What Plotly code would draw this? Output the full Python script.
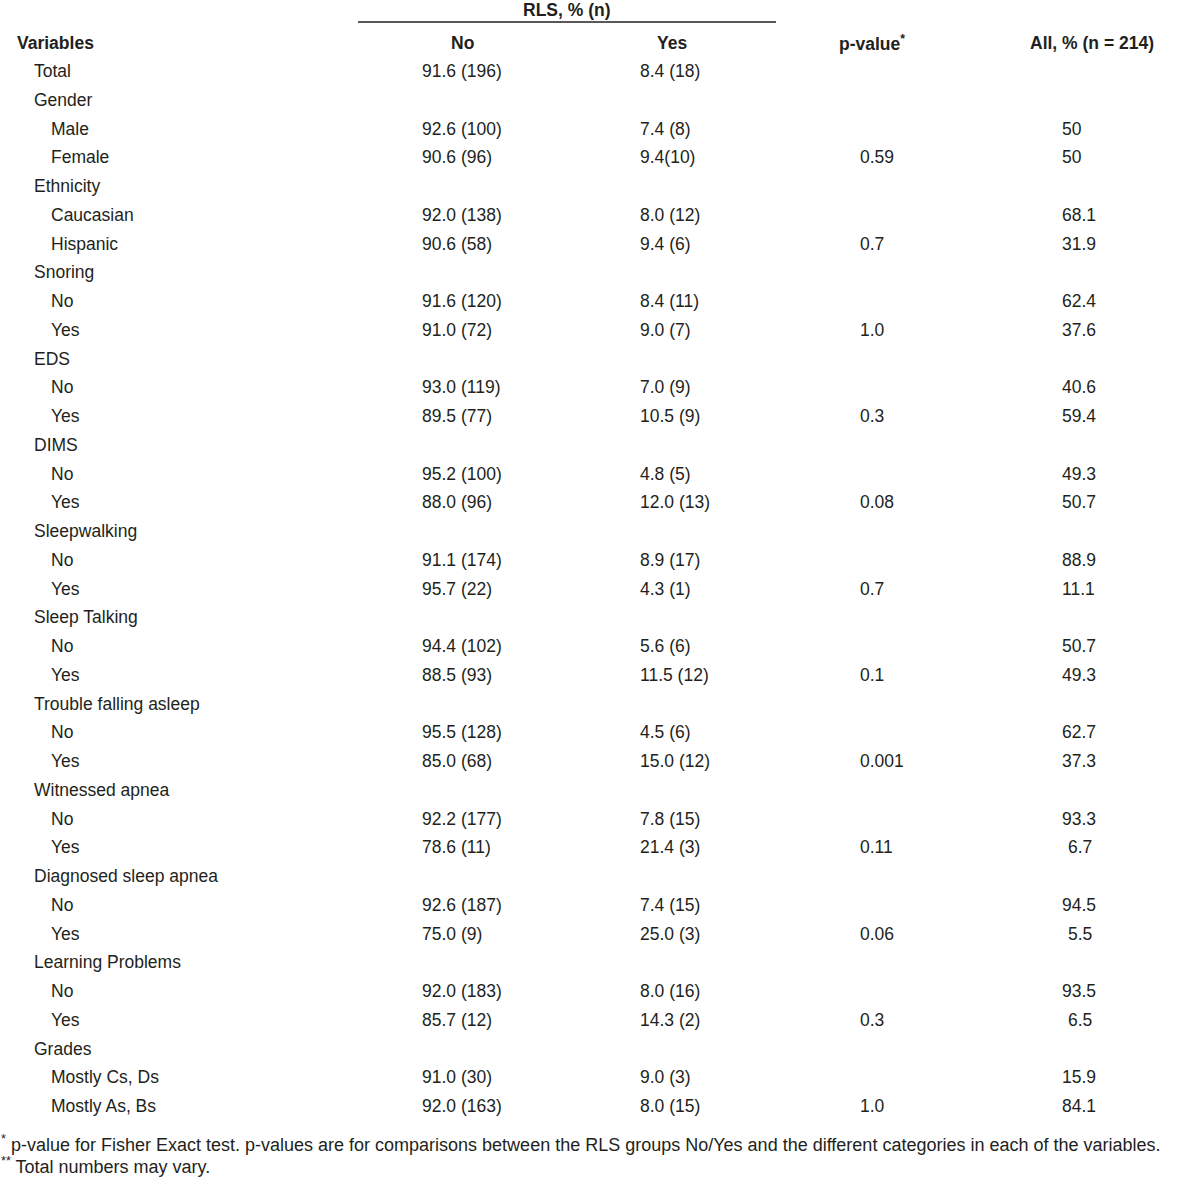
import plotly.graph_objects as go

variables = ["Total", "Gender", "Male", "Female", "Ethnicity", "Caucasian", "Hispanic",
             "Snoring", "No", "Yes", "EDS", "No", "Yes", "DIMS", "No", "Yes",
             "Sleepwalking", "No", "Yes", "Sleep Talking", "No", "Yes",
             "Trouble falling asleep", "No", "Yes", "Witnessed apnea", "No", "Yes",
             "Diagnosed sleep apnea", "No", "Yes", "Learning Problems", "No", "Yes",
             "Grades", "Mostly Cs, Ds", "Mostly As, Bs"]
levels = [0, 0, 1, 1, 0, 1, 1, 0, 1, 1, 0, 1, 1, 0, 1, 1, 0, 1, 1, 0, 1, 1,
          0, 1, 1, 0, 1, 1, 0, 1, 1, 0, 1, 1, 0, 1, 1]
rls_no = ["91.6 (196)", "", "92.6 (100)", "90.6 (96)", "", "92.0 (138)", "90.6 (58)",
          "", "91.6 (120)", "91.0 (72)", "", "93.0 (119)", "89.5 (77)", "", "95.2 (100)", "88.0 (96)",
          "", "91.1 (174)", "95.7 (22)", "", "94.4 (102)", "88.5 (93)",
          "", "95.5 (128)", "85.0 (68)", "", "92.2 (177)", "78.6 (11)",
          "", "92.6 (187)", "75.0 (9)", "", "92.0 (183)", "85.7 (12)",
          "", "91.0 (30)", "92.0 (163)"]
rls_yes = ["8.4 (18)", "", "7.4 (8)", "9.4(10)", "", "8.0 (12)", "9.4 (6)",
           "", "8.4 (11)", "9.0 (7)", "", "7.0 (9)", "10.5 (9)", "", "4.8 (5)", "12.0 (13)",
           "", "8.9 (17)", "4.3 (1)", "", "5.6 (6)", "11.5 (12)",
           "", "4.5 (6)", "15.0 (12)", "", "7.8 (15)", "21.4 (3)",
           "", "7.4 (15)", "25.0 (3)", "", "8.0 (16)", "14.3 (2)",
           "", "9.0 (3)", "8.0 (15)"]
p_values = ["", "", "", "0.59", "", "", "0.7", "", "", "1.0", "", "", "0.3", "", "", "0.08",
            "", "", "0.7", "", "", "0.1", "", "", "0.001", "", "", "0.11",
            "", "", "0.06", "", "", "0.3", "", "", "1.0"]
all_pct = ["", "", "50", "50", "", "68.1", "31.9", "", "62.4", "37.6", "", "40.6", "59.4",
           "", "49.3", "50.7", "", "88.9", "11.1", "", "50.7", "49.3",
           "", "62.7", "37.3", "", "93.3", "6.7", "", "94.5", "5.5", "", "93.5", "6.5",
           "", "15.9", "84.1"]

group_title = "RLS, % (n)"
col_headers = ["Variables", "No", "Yes", "p-value<sup>*</sup>", "All, % (n = 214)"]
footnotes = ["<sup>*</sup> p-value for Fisher Exact test. p-values are for comparisons between the RLS groups No/Yes and the different categories in each of the variables.",
             "<sup>**</sup> Total numbers may vary."]

W, H = 1200, 1186
FONT = "Liberation Sans, Arial, sans-serif"
COLOR = "#231f20"
FS = 17.5
ROW0, STEP = 71, 28.75

fig = go.Figure()
fig.add_trace(go.Scatter(x=[0, W], y=[0, H], mode="markers", marker=dict(opacity=0),
                         hoverinfo="skip", showlegend=False))

def ann(x, y, text, anchor="left", bold=False, size=FS, xshift=0):
    t = f"<b>{text}</b>" if bold else text
    dx = -2 if anchor == "left" else (2 if anchor == "right" else 0)
    fig.add_annotation(x=x, y=y, xref="x", yref="y", text=t, showarrow=False,
                       xanchor=anchor, yanchor="middle", xshift=xshift + dx,
                       font=dict(family=FONT, size=size, color=COLOR))

# headers
ann(567, 10, group_title, "center", True)
fig.add_shape(type="line", x0=358, x1=776, y0=22, y1=22, xref="x", yref="y",
              line=dict(color=COLOR, width=1.5))
hx = [17, 462, 672, 872, 1092]
hanch = ["left", "center", "center", "center", "center"]
for x, a, t in zip(hx, hanch, col_headers):
    ann(x, 43, t, a, True)

for i, (v, lv, n, yv, p, a) in enumerate(zip(variables, levels, rls_no, rls_yes, p_values, all_pct)):
    y = ROW0 + i * STEP
    ann(34 + 17 * lv, y, v)
    if n:
        ann(422, y, n)
    if yv:
        ann(640, y, yv)
    if p:
        ann(860, y, p)
    if a:
        ann(1062, y, a, xshift=(6 if len(a.split(".")[0]) == 1 else 0))

ann(1, 1143, footnotes[0], "left", size=18)
ann(1, 1165, footnotes[1], "left", size=18)

fig.update_xaxes(range=[0, W], visible=False, fixedrange=True)
fig.update_yaxes(range=[H, 0], visible=False, fixedrange=True)
fig.update_layout(width=W, height=H, margin=dict(l=0, r=0, t=0, b=0),
                  plot_bgcolor="white", paper_bgcolor="white", showlegend=False)
fig.write_html("out.html", config={"displayModeBar": False},
               post_script="document.body.style.margin='0';")
